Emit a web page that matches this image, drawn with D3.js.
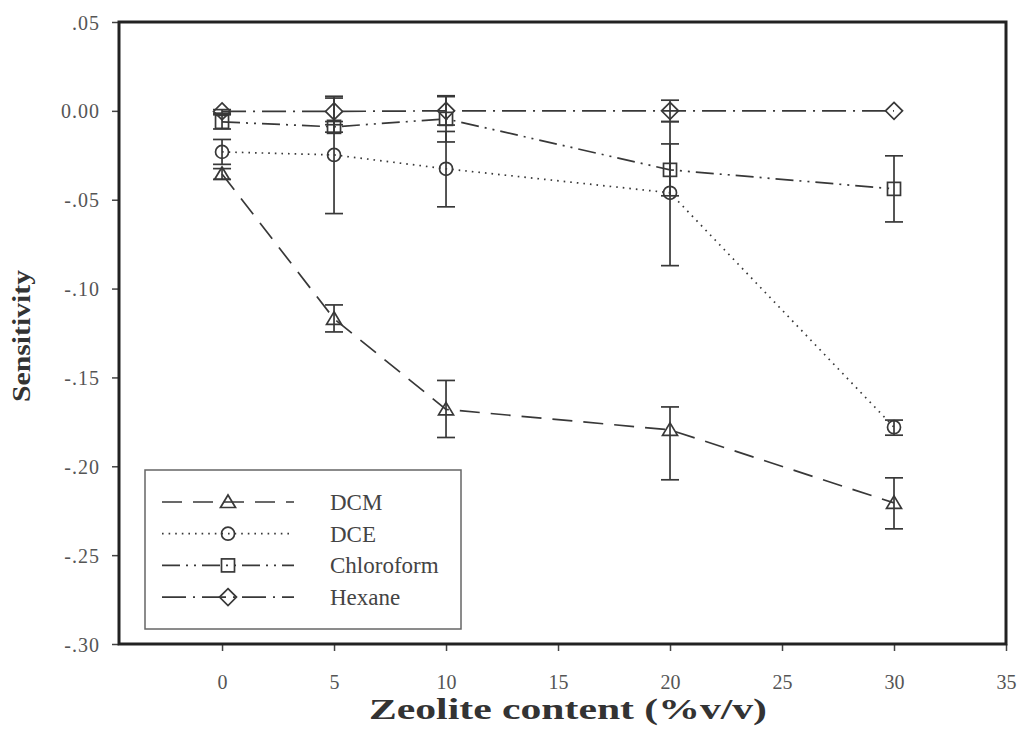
<!DOCTYPE html>
<html>
<head>
    <style>
        body { margin: 0; background: #fff; }
        text { font-family: "Liberation Serif", "DejaVu Serif", serif; }
        .tick-label { fill: #555; font-size: 20px; }
        .title { fill: #333; font-weight: bold; }
    </style>
    <script src="https://d3js.org/d3.v7.min.js"></script>
</head>
<body>
    <div id="chart"></div>

    <script>
        // zeolite content (%v/v)
        var xValues = [0, 5, 10, 20, 30];

        var dcm = [-0.0355, -0.117, -0.168, -0.1795, -0.2206];
        var dcmErr = [[0.003, 0.003], [0.0078, 0.0074], [0.0163, 0.0158], [0.0129, 0.0281], [0.0141, 0.0146]];

        var dce = [-0.0231, -0.0248, -0.0326, -0.0461, -0.178];
        var dceErr = [[0.007, 0.007], [0.033, 0.033], [0.021, 0.0214], [0.040, 0.041], [0.004, 0.0045]];

        var chloroform = [-0.0062, -0.009, -0.0045, -0.0332, -0.0439];
        var chloroformErr = [[0.004, 0.004], [0.003, 0.003], [0.013, 0.013], [0.0146, 0.0146], [0.0186, 0.0186]];

        var hexane = [-0.0003, -0.0003, 0, 0, 0];
        var hexaneErr = [[0.001, 0.001], [0.0075, 0.0075], [0.008, 0.008], [0.006, 0.006], [0, 0]];

        var seriesNames = ["DCM", "DCE", "Chloroform", "Hexane"];
        var xTicks = [0, 5, 10, 15, 20, 25, 30, 35];
        var yTicks = [0.05, 0, -0.05, -0.10, -0.15, -0.20, -0.25, -0.30];
        var yTickLabels = [".05", "0.00", "-.05", "-.10", "-.15", "-.20", "-.25", "-.30"];

        var width = 1021, height = 750;
        var plotLeft = 119, plotRight = 1006, plotTop = 22, plotBottom = 644;
        var serif = "'Liberation Serif', 'DejaVu Serif', serif";

        var svg = d3.select("#chart")
                    .append("svg")
                    .attr("width", width)
                    .attr("height", height);

        var x = d3.scaleLinear().domain([-4.6, 35]).range([plotLeft, plotRight]);
        var y = d3.scaleLinear().domain([-0.30, 0.05]).range([plotBottom, plotTop]);

        var series = [
            { name: seriesNames[0], values: dcm, err: dcmErr, dash: "20,11", shape: "triangle" },
            { name: seriesNames[1], values: dce, err: dceErr, dash: "1.6,5", shape: "circle" },
            { name: seriesNames[2], values: chloroform, err: chloroformErr, dash: "18,6,2,6,2,6", shape: "square" },
            { name: seriesNames[3], values: hexane, err: hexaneErr, dash: "24,7,2,7", shape: "diamond" }
        ];

        var lineColor = "#383838";

        function marker(g, shape) {
            if (shape == "triangle") {
                g.append("path").attr("d", "M0,-7L7.5,5.5L-7.5,5.5Z");
            } else if (shape == "circle") {
                g.append("circle").attr("r", 6.5);
            } else if (shape == "square") {
                g.append("rect").attr("x", -6.5).attr("y", -6.5).attr("width", 13).attr("height", 13);
            } else {
                g.append("path").attr("d", "M0,-8.5L8.5,0L0,8.5L-8.5,0Z");
            }
            g.selectAll("*").attr("fill", "none").attr("stroke", lineColor).attr("stroke-width", 1.7);
        }

        // axes
        var xAxis = svg.append("g")
            .attr("transform", "translate(0," + plotBottom + ")")
            .call(d3.axisBottom(x).tickValues(xTicks).tickSize(7).tickFormat(d3.format("d")));
        xAxis.attr("font-family", serif).attr("font-size", 20);
        xAxis.select(".domain").remove();
        xAxis.selectAll("line").attr("stroke", "#444").attr("stroke-width", 1.5);
        xAxis.selectAll("text").attr("class", "tick-label").attr("dy", null).attr("y", 45)
            .style("font-family", serif);

        var yAxis = svg.append("g")
            .attr("transform", "translate(" + plotLeft + ",0)")
            .call(d3.axisLeft(y).tickValues(yTicks).tickSize(7)
                .tickFormat(function(d, i) { return yTickLabels[i]; }));
        yAxis.attr("font-family", serif).attr("font-size", 20);
        yAxis.select(".domain").remove();
        yAxis.selectAll("line").attr("stroke", "#444").attr("stroke-width", 1.5);
        yAxis.selectAll("text").attr("class", "tick-label").attr("x", -19).attr("dy", "0.35em")
            .style("font-family", serif).style("letter-spacing", "1px");

        // frame
        svg.append("rect")
            .attr("x", plotLeft).attr("y", plotTop)
            .attr("width", plotRight - plotLeft).attr("height", plotBottom - plotTop)
            .attr("fill", "none").attr("stroke", "#222").attr("stroke-width", 3);

        // lines
        var line = d3.line()
            .x(function(d, i) { return x(xValues[i]); })
            .y(function(d) { return y(d); });

        series.forEach(function(s) {
            svg.append("path")
                .datum(s.values)
                .attr("d", line)
                .attr("fill", "none")
                .attr("stroke", lineColor)
                .attr("stroke-width", 1.7)
                .attr("stroke-dasharray", s.dash);
        });

        // error bars
        series.forEach(function(s) {
            s.values.forEach(function(v, i) {
                var e = s.err[i];
                if (e[0] == 0 && e[1] == 0) return;
                var cx = x(xValues[i]);
                var y1 = y(v + e[0]), y2 = y(v - e[1]);
                var g = svg.append("g").attr("stroke", lineColor).attr("stroke-width", 1.7);
                g.append("line").attr("x1", cx).attr("x2", cx).attr("y1", y1).attr("y2", y2);
                g.append("line").attr("x1", cx - 9).attr("x2", cx + 9).attr("y1", y1).attr("y2", y1);
                g.append("line").attr("x1", cx - 9).attr("x2", cx + 9).attr("y1", y2).attr("y2", y2);
            });
        });

        // markers
        series.forEach(function(s) {
            s.values.forEach(function(v, i) {
                var g = svg.append("g")
                    .attr("transform", "translate(" + x(xValues[i]) + "," + y(v) + ")");
                marker(g, s.shape);
            });
        });

        // legend
        var legend = svg.append("g");
        legend.append("rect")
            .attr("x", 145).attr("y", 470).attr("width", 316).attr("height", 159)
            .attr("fill", "#fff").attr("stroke", "#666").attr("stroke-width", 1.5);

        series.forEach(function(s, i) {
            var ly = 502 + i * 31.7;
            legend.append("line")
                .attr("x1", 162).attr("x2", 294).attr("y1", ly).attr("y2", ly)
                .attr("stroke", lineColor).attr("stroke-width", 1.7)
                .attr("stroke-dasharray", s.dash);
            var g = legend.append("g").attr("transform", "translate(228," + ly + ")");
            marker(g, s.shape);
            legend.append("text")
                .attr("x", 330).attr("y", ly).attr("dy", "0.35em")
                .attr("fill", "#444").attr("font-size", "23px")
                .text(s.name);
        });

        // axis titles
        svg.append("text")
            .attr("class", "title")
            .attr("x", 568).attr("y", 719)
            .attr("text-anchor", "middle")
            .attr("font-size", "30px")
            .attr("textLength", 398).attr("lengthAdjust", "spacingAndGlyphs")
            .text("Zeolite content (%v/v)");

        svg.append("text")
            .attr("class", "title")
            .attr("transform", "translate(30,336) rotate(-90)")
            .attr("text-anchor", "middle")
            .attr("font-size", "25px")
            .attr("textLength", 132).attr("lengthAdjust", "spacingAndGlyphs")
            .text("Sensitivity");
    </script>
</body>
</html>
